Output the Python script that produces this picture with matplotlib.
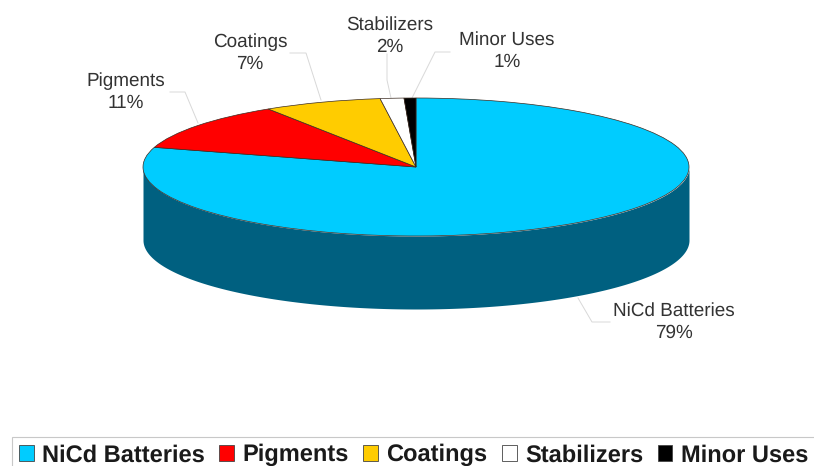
import numpy as np
import matplotlib
matplotlib.use("Agg")
import matplotlib.pyplot as plt
from matplotlib.patches import Patch

categories = ["NiCd Batteries", "Pigments", "Coatings", "Stabilizers", "Minor Uses"]
shares = [79.6, 11.3, 7.0, 1.4, 0.7]
percent_labels = ["79%", "11%", "7%", "2%", "1%"]
colors = ["#00ccff", "#ff0000", "#ffcc00", "#ffffff", "#000000"]
wall_color = "#006080"
depth = 73 / 69

W, H = 814, 466
cx, cy, rx, ry = 416, 167, 273, 69
plt.rcParams["font.family"] = ["Liberation Sans", "DejaVu Sans"]
plt.rcParams["text.hinting"] = "none"

fig = plt.figure(figsize=(W / 100, H / 100), dpi=100)
ax = fig.add_axes([0, 0, 1, 1])

def px(x, y):
    return (x - cx) / rx, (cy - y) / ry

t = np.linspace(np.pi, 2 * np.pi, 300)
ax.fill_between(np.cos(t), np.sin(t), np.sin(t) - depth, color=wall_color, lw=0, zorder=1)
ax.pie(shares, colors=colors, startangle=90, counterclock=False, radius=1,
       wedgeprops=dict(edgecolor="#3a2a20", linewidth=0.5))
ax.set_aspect("auto")
ax.set_xlim(-cx / rx, (W - cx) / rx)
ax.set_ylim((cy - H) / ry, cy / ry)
ax.axis("off")

label_pos = [(674, 322), (126, 92), (250, 53), (390, 36), (507, 51)]
leaders = [
    [(610, 322), (592, 322), (578, 298)],
    [(170, 92), (185, 92), (198, 123)],
    [(290, 53), (306, 53), (321, 100)],
    [(387, 54), (387, 80), (391, 98)],
    [(450, 52), (435, 52), (412, 98)],
]
for name, pct, (x, y), leader in zip(categories, percent_labels, label_pos, leaders):
    ax.text(*px(x, y), f"{name}\n{pct}", ha="center", va="center", fontsize=13.6,
            color="#333333", linespacing=1.3)
    xs, ys = zip(*[px(a, b) for a, b in leader])
    ax.plot(xs, ys, color="#d8d8d8", lw=0.7, zorder=0.5)

handles = [Patch(facecolor=c, edgecolor="#444444", linewidth=0.6) for c in colors]
leg = ax.legend(handles, categories, ncol=5, loc="lower left",
                bbox_to_anchor=(12 / W, -0.016), prop=dict(weight="bold", size=17.0),
                frameon=True, fancybox=False, edgecolor="#c8c8c8", framealpha=1,
                handlelength=0.62, handleheight=0.62, handletextpad=0.35,
                columnspacing=0.62, borderpad=0.3, borderaxespad=0)
leg.get_frame().set_linewidth(0.8)
for text in leg.get_texts():
    text.set_color("#1a1a1a")

fig.savefig("out.png", dpi=100, facecolor="white")
